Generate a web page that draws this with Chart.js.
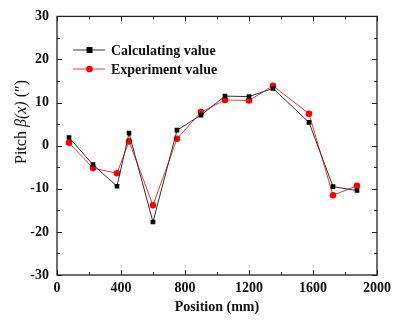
<!DOCTYPE html>
<html>
<head>
<meta charset="utf-8">
<script src="https://cdn.jsdelivr.net/npm/chart.js@4"></script>
<style>
  html, body { margin: 0; padding: 0; background: #fff; }
  #wrap { width: 411px; height: 323px; }
</style>
</head>
<body>
<div id="wrap"><canvas id="c" width="411" height="323"></canvas></div>
<script>
const positions = [75, 225, 375, 450, 600, 750, 900, 1050, 1200, 1350, 1575, 1725, 1875];
const calculating = [1.9, -4.4, -9.4, 2.9, -17.7, 3.6, 7.1, 11.5, 11.4, 13.3, 5.4, -9.5, -10.4];
const experiment = [0.7, -5.2, -6.4, 1.0, -13.8, 1.6, 7.8, 10.6, 10.5, 13.9, 7.4, -11.5, -9.3];
const seriesNames = ["Calculating value", "Experiment value"];
const xTickStep = 400;
const yTickStep = 10;

const SERIF = "'Liberation Serif', 'DejaVu Serif', serif";

function pts(xs, ys) {
    return xs.map(function (x, i) { return { x: x, y: ys[i] }; });
}

// frame, inward ticks, axis titles, legend
const decor = {
    id: "decor",
    afterDraw(chart) {
        const ctx = chart.ctx;
        const a = chart.chartArea;
        const xs = chart.scales.x, ys = chart.scales.y;
        ctx.save();
        ctx.strokeStyle = "#222";
        ctx.lineWidth = 1.3;
        ctx.strokeRect(a.left, a.top, a.right - a.left, a.bottom - a.top);

        ctx.lineWidth = 1;
        for (let v = xs.min; v <= xs.max; v += xTickStep / 2) {
            const px = Math.round(xs.getPixelForValue(v)) + 0.5;
            const len = (v % xTickStep === 0) ? 5 : 3;
            ctx.beginPath();
            ctx.moveTo(px, a.bottom); ctx.lineTo(px, a.bottom - len);
            ctx.moveTo(px, a.top); ctx.lineTo(px, a.top + len);
            ctx.stroke();
        }
        for (let v = ys.min; v <= ys.max; v += yTickStep / 2) {
            const py = Math.round(ys.getPixelForValue(v)) + 0.5;
            const len = (v % yTickStep === 0) ? 5 : 3;
            ctx.beginPath();
            ctx.moveTo(a.left, py); ctx.lineTo(a.left + len, py);
            ctx.moveTo(a.right, py); ctx.lineTo(a.right - len, py);
            ctx.stroke();
        }

        // x title
        ctx.fillStyle = "#111";
        ctx.font = "bold 14px " + SERIF;
        ctx.textAlign = "center";
        ctx.textBaseline = "middle";
        ctx.fillText("Position (mm)", (a.left + a.right) / 2, 307);

        // y title with italic part
        const parts = [
            ["Pitch ", "16px " + SERIF],
            ["\u03B2(x)", "italic 16px " + SERIF],
            [" (\u2033)", "16px " + SERIF]
        ];
        let total = 0;
        parts.forEach(function (p) { ctx.font = p[1]; total += ctx.measureText(p[0]).width; });
        ctx.translate(22, 122);
        ctx.rotate(-Math.PI / 2);
        ctx.textAlign = "left";
        let cx = -total / 2;
        parts.forEach(function (p) {
            ctx.font = p[1];
            ctx.fillText(p[0], cx, 0);
            cx += ctx.measureText(p[0]).width;
        });
        ctx.setTransform(1, 0, 0, 1, 0, 0);

        // legend
        chart.data.datasets.forEach(function (ds, i) {
            const y = 50 + i * 19;
            ctx.strokeStyle = ds.borderColor;
            ctx.lineWidth = 1;
            ctx.beginPath();
            ctx.moveTo(73, y); ctx.lineTo(105, y);
            ctx.stroke();
            ctx.fillStyle = ds.pointBackgroundColor;
            if (ds.pointStyle === "rect") {
                ctx.fillRect(86.5, y - 3, 6, 6);
            } else {
                ctx.beginPath();
                ctx.arc(89.5, y, 3.3, 0, Math.PI * 2);
                ctx.fill();
            }
            ctx.fillStyle = "#111";
            ctx.font = "bold 14px " + SERIF;
            ctx.textAlign = "left";
            ctx.textBaseline = "middle";
            ctx.fillText(ds.label, 111, y + 1);
        });
        ctx.restore();
    }
};

new Chart(document.getElementById("c").getContext("2d"), {
    type: "scatter",
    data: {
        datasets: [
            {
                label: seriesNames[0],
                data: pts(positions, calculating),
                showLine: true,
                borderColor: "#333",
                borderWidth: 1,
                pointStyle: "rect",
                pointRadius: 3.3,
                pointBackgroundColor: "#000",
                pointBorderColor: "#000",
                pointBorderWidth: 0
            },
            {
                label: seriesNames[1],
                data: pts(positions, experiment),
                showLine: true,
                borderColor: "#ff3030",
                borderWidth: 1,
                pointStyle: "circle",
                pointRadius: 3.3,
                pointBackgroundColor: "#ff0000",
                pointBorderColor: "#ff0000",
                pointBorderWidth: 0
            }
        ]
    },
    options: {
        responsive: false,
        animation: false,
        layout: { padding: { top: 16, right: 34, left: 0, bottom: 0 } },
        plugins: { legend: { display: false }, tooltip: { enabled: false } },
        scales: {
            x: {
                type: "linear",
                min: 0, max: 2000,
                ticks: { stepSize: xTickStep, color: "#111", padding: 5, maxRotation: 0,
                         font: { family: SERIF, size: 14, weight: "bold" },
                         callback: function (v) { return String(v); } },
                grid: { display: false, drawTicks: false },
                border: { display: false },
                afterFit(s) { s.height = 48; }
            },
            y: {
                min: -30, max: 30,
                ticks: { stepSize: yTickStep, color: "#111", padding: 8,
                         font: { family: SERIF, size: 14, weight: "bold" } },
                grid: { display: false, drawTicks: false },
                border: { display: false },
                afterFit(s) { s.width = 57; }
            }
        }
    },
    plugins: [decor]
});
</script>
</body>
</html>
